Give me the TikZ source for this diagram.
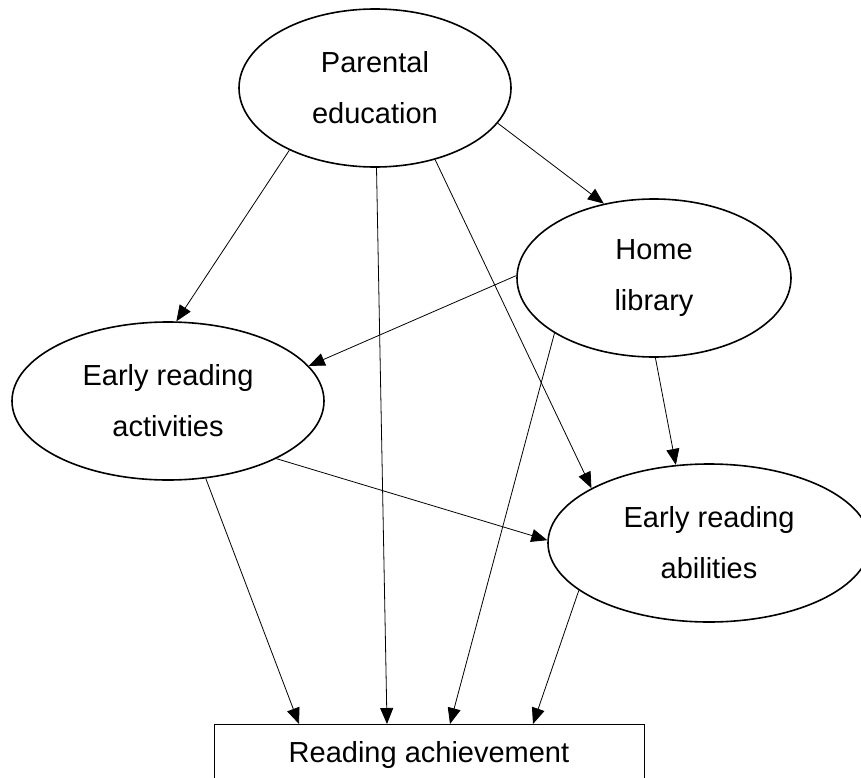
\documentclass[tikz,border=0pt]{standalone}
\usepackage{fontspec}
\setmainfont{Liberation Sans}
\usetikzlibrary{shapes,arrows.meta,positioning,calc}

\begin{document}
\begin{tikzpicture}[x=1pt, y=-1pt,
    var/.style={ellipse, draw, line width=1.6pt, inner sep=0pt, align=center,
        minimum height=158pt, font=\fontsize{29}{51}\selectfont},
    effect/.style={-{Triangle[length=16pt,width=13pt]}, line width=0.8pt}]
	\useasboundingbox (0,0) rectangle (861,778);

	% Variables - parental background on top, outcome at the bottom
	\node[var, minimum width=272pt] (pared) at (375,88) {Parental\\education};
	\node[var, minimum width=274pt] (homelib) at (654,278) {Home\\library};
	\node[var, minimum width=312pt] (activ) at (168,401) {Early reading\\activities};
	\node[var, minimum width=322pt] (abil) at (709,543) {Early reading\\abilities};
	% Outcome box runs off the bottom edge
	\node[draw, line width=1pt, minimum width=430pt, minimum height=60pt, anchor=north,
	    font=\fontsize{29}{35}\selectfont] (achieve) at (429,724) {Reading achievement};

	% Paths from parental education
	\draw[effect] (pared.216) -- (activ.84);
	\draw[effect] (pared) -- ([xshift=-42pt]achieve.north);
	\draw[effect] (pared.310) -- (abil.155);
	\draw[effect] (pared.344) -- (homelib.124);

	% Paths from home library
	\draw[effect] (homelib.179) -- (activ.14);
	\draw[effect] (homelib.209) -- ([xshift=21pt]achieve.north);
	\draw[effect] (homelib.271) -- (abil.113);

	% Paths from early reading activities and abilities
	\draw[effect] (activ.332) -- (abil.179);
	\draw[effect] (activ.296) -- ([xshift=-130pt]achieve.north);
	\draw[effect] (abil.200) -- ([xshift=104pt]achieve.north);
\end{tikzpicture}
\end{document}
